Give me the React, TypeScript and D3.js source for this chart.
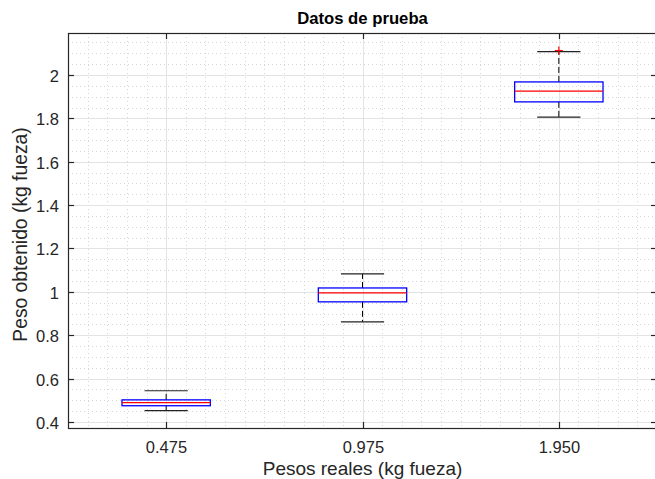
import React, { useEffect, useRef } from "react";
import * as d3 from "d3";

const categories = ["0.475", "0.975", "1.950"];
const whiskerLow = [0.452, 0.862, 1.806];
const q1 = [0.475, 0.954, 1.876];
const median = [0.489, 0.995, 1.926];
const q3 = [0.502, 1.018, 1.968];
const whiskerHigh = [0.544, 1.083, 2.108];
const outliers = [[], [], [2.113]];
const yTicks = [0.4, 0.6, 0.8, 1, 1.2, 1.4, 1.6, 1.8, 2];

const W = 655, H = 479;
const left = 68, right = 657, top = 33, bottom = 428;
const ink = "#262626";
const font = "'Liberation Sans', Arial, sans-serif";

export default function App() {
  const ref = useRef<SVGSVGElement>(null);

  useEffect(() => {
    const svg = d3.select(ref.current);
    svg.selectAll("*").remove();

    const x = d3.scaleLinear().domain([0.5, 3.5]).range([left, right]);
    const y = d3.scaleLinear().domain([0.3723, 2.1936]).range([bottom, top]);

    const g = svg.append("g");

    // minor grid, dotted
    const minorY = d3.range(0.4, 2.2, 0.05).filter(v => y(v) > top && y(v) < bottom);
    const minorX = d3.range(0.6, 3.5, 0.1);
    g.selectAll(".my").data(minorY).join("line")
      .attr("x1", left).attr("x2", right)
      .attr("y1", d => Math.round(y(d)) + 0.5).attr("y2", d => Math.round(y(d)) + 0.5)
      .attr("stroke", "#d6d6d6").attr("stroke-dasharray", "1,3");
    g.selectAll(".mx").data(minorX).join("line")
      .attr("y1", top).attr("y2", bottom)
      .attr("x1", d => Math.round(x(d)) + 0.5).attr("x2", d => Math.round(x(d)) + 0.5)
      .attr("stroke", "#d6d6d6").attr("stroke-dasharray", "1,3");

    // major grid
    g.selectAll(".gy").data(yTicks).join("line")
      .attr("x1", left).attr("x2", right)
      .attr("y1", d => Math.round(y(d)) + 0.5).attr("y2", d => Math.round(y(d)) + 0.5)
      .attr("stroke", "#e3e3e3");
    g.selectAll(".gx").data(categories).join("line")
      .attr("y1", top).attr("y2", bottom)
      .attr("x1", (d, i) => Math.round(x(i + 1)) + 0.5).attr("x2", (d, i) => Math.round(x(i + 1)) + 0.5)
      .attr("stroke", "#e3e3e3");

    // boxes
    const bw = 0.225, cw = 0.11;
    categories.forEach((c, i) => {
      const cx = x(i + 1);
      const bg = g.append("g");
      bg.append("line").attr("x1", cx).attr("x2", cx)
        .attr("y1", y(q3[i])).attr("y2", y(whiskerHigh[i]))
        .attr("stroke", "#000").attr("stroke-dasharray", "6,3");
      bg.append("line").attr("x1", cx).attr("x2", cx)
        .attr("y1", y(q1[i])).attr("y2", y(whiskerLow[i]))
        .attr("stroke", "#000").attr("stroke-dasharray", "6,3");
      [whiskerHigh[i], whiskerLow[i]].forEach(v => {
        bg.append("line").attr("x1", x(i + 1 - cw)).attr("x2", x(i + 1 + cw))
          .attr("y1", y(v)).attr("y2", y(v))
          .attr("stroke", "#222").attr("stroke-width", 1.2);
      });
      bg.append("rect")
        .attr("x", x(i + 1 - bw)).attr("width", x(i + 1 + bw) - x(i + 1 - bw))
        .attr("y", y(q3[i])).attr("height", y(q1[i]) - y(q3[i]))
        .attr("fill", "none").attr("stroke", "#0000ff").attr("stroke-width", 1.3);
      bg.append("line").attr("x1", x(i + 1 - bw)).attr("x2", x(i + 1 + bw))
        .attr("y1", y(median[i])).attr("y2", y(median[i]))
        .attr("stroke", "#ff0000").attr("stroke-width", 1.2);
      outliers[i].forEach(v => {
        bg.append("path")
          .attr("d", `M${cx - 4},${y(v)}H${cx + 4}M${cx},${y(v) - 4}V${y(v) + 4}`)
          .attr("stroke", "#ff0000").attr("stroke-width", 1.2);
      });
    });

    // axes box
    g.append("rect").attr("x", left + 0.5).attr("y", top + 0.5)
      .attr("width", right - left).attr("height", bottom - top)
      .attr("fill", "none").attr("stroke", ink).attr("stroke-width", 1.2);

    // y ticks
    yTicks.forEach(v => {
      const yy = Math.round(y(v)) + 0.5;
      g.append("line").attr("x1", left).attr("x2", left + 6).attr("y1", yy).attr("y2", yy)
        .attr("stroke", ink).attr("stroke-width", 1.2);
      g.append("line").attr("x1", right - 6).attr("x2", right).attr("y1", yy).attr("y2", yy)
        .attr("stroke", ink).attr("stroke-width", 1.2);
      g.append("text").attr("x", left - 9).attr("y", yy + 6)
        .attr("text-anchor", "end").attr("font-family", font).attr("font-size", 16.5)
        .attr("fill", ink).text(d3.format("~g")(v));
    });

    // x ticks
    categories.forEach((c, i) => {
      const xx = Math.round(x(i + 1)) + 0.5;
      g.append("line").attr("x1", xx).attr("x2", xx).attr("y1", bottom).attr("y2", bottom - 6)
        .attr("stroke", ink).attr("stroke-width", 1.2);
      g.append("line").attr("x1", xx).attr("x2", xx).attr("y1", top).attr("y2", top + 6)
        .attr("stroke", ink).attr("stroke-width", 1.2);
      g.append("text").attr("x", xx).attr("y", 453)
        .attr("text-anchor", "middle").attr("font-family", font).attr("font-size", 16.5)
        .attr("fill", ink).text(c);
    });

    svg.append("text").attr("x", (left + right) / 2).attr("y", 24)
      .attr("text-anchor", "middle").attr("font-family", font).attr("font-size", 16.7)
      .attr("font-weight", "bold").attr("fill", "#000").text("Datos de prueba");

    svg.append("text").attr("x", (left + right) / 2).attr("y", 475)
      .attr("text-anchor", "middle").attr("font-family", font).attr("font-size", 19)
      .attr("fill", ink).text("Pesos reales (kg fueza)");

    svg.append("text")
      .attr("transform", `translate(27,${(top + bottom) / 2 + 4}) rotate(-90)`)
      .attr("text-anchor", "middle").attr("font-family", font).attr("font-size", 19.3)
      .attr("fill", ink).text("Peso obtenido (kg fueza)");
  }, []);

  return (
    <svg ref={ref} width={W} height={H}
      style={{ position: "absolute", left: 0, top: 0, background: "#fff" }} />
  );
}
